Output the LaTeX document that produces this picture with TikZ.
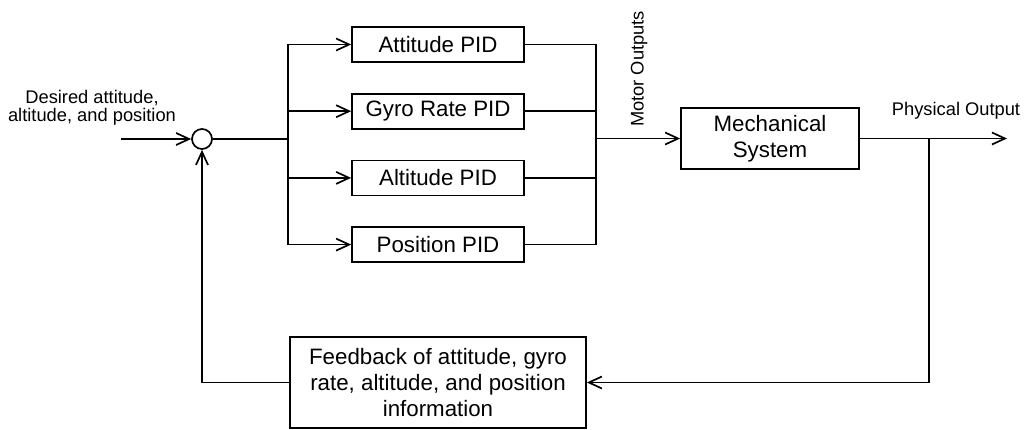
\documentclass[tikz,border=0pt]{standalone}
\usepackage{fontspec}
\setmainfont{Liberation Sans}
\usetikzlibrary{positioning,arrows.meta}
\tikzset{
  blok/.style={
    draw, rectangle, minimum height=35pt, minimum width=172pt, line width=1.7pt,
    inner sep=2pt, align=center, font=\fontsize{22.3}{26}\selectfont
  },
  sumnode/.style={
    draw, circle, minimum size=20pt, inner sep=0pt, line width=1.7pt
  },
  lbl/.style={
    inner sep=0pt, align=center, font=\fontsize{18.3}{18.5}\selectfont
  },
  arr/.style={
    -{Straight Barb[length=13pt,width=12pt,line width=1.7pt]}
  }
}

\begin{document}
\begin{tikzpicture}[x=1pt,y=-1pt]
 \useasboundingbox (0,0) rectangle (1027,429);

 \node[sumnode] at (202,139) (sum) {};
 \node[blok] at (438,44.5) (att) {Attitude PID};
 \node[blok, below=30pt of att] (gyro) {Gyro Rate PID};
 \node[blok, below=30pt of gyro] (alt) {Altitude PID};
 \node[blok, below=30pt of alt] (pos) {Position PID};
 \node[blok, minimum width=178pt, minimum height=61pt] at (770,138.5) (mech) {Mechanical\\System};
 \node[blok, minimum width=296pt, minimum height=91pt] at (438,382.5) (fb)
   {Feedback of attitude, gyro\\rate, altitude, and position\\information};

 \coordinate (in) at (121,139);
 \coordinate (split) at (288,139);
 \coordinate (join) at (596,138.5);
 \coordinate (branch) at (929,138.5);
 \coordinate (out) at (1007,138.5);

 \node[lbl] at (92,108) (desired) {Desired attitude,\\altitude, and position};
 \node[lbl] at (956,111) (phys) {Physical Output};
 \node[lbl, rotate=90] at (639,69) (motor) {Motor Outputs};

 \draw[arr,line width=1.7pt] (in) -- (sum);
 \draw[line width=1.7pt] (sum) -- (split);
 \draw[arr,line width=1.7pt] (split) |- (att);
 \draw[arr,line width=1.7pt] (split) |- (gyro);
 \draw[arr,line width=1.7pt] (split) |- (alt);
 \draw[arr,line width=1.7pt] (split) |- (pos);
 \draw[line width=1.7pt] (att) -| (join);
 \draw[line width=1.7pt] (gyro) -| (join);
 \draw[line width=1.7pt] (alt) -| (join);
 \draw[line width=1.7pt] (pos) -| (join);
 \draw[arr,line width=1.7pt] (join) -- (mech);
 \draw[arr,line width=1.7pt] (mech) -- (out);
 \draw[arr,line width=1.7pt] (branch) |- (fb);
 \draw[arr,line width=1.7pt] (fb) -| (sum);
\end{tikzpicture}
\end{document}
